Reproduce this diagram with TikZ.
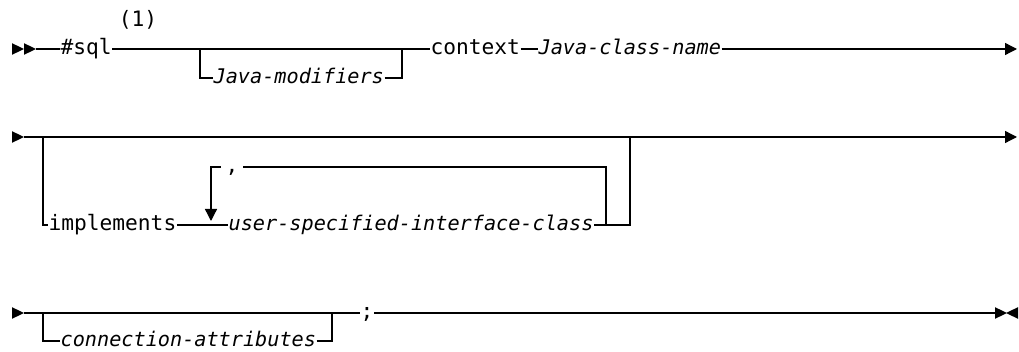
\documentclass[tikz,border=0pt]{standalone}
\usepackage{fontspec}
\setmonofont{DejaVu Sans Mono}
\usetikzlibrary{arrows.meta,positioning}

\begin{document}
\begin{tikzpicture}[x=0.5pt,y=-0.5pt,line width=0.65pt,
    kw/.style={font=\ttfamily\fontsize{10.6}{12}\selectfont,inner sep=0pt,text height=7.8pt,text depth=2.2pt,anchor=west},
    var/.style={kw,font=\ttfamily\itshape\fontsize{10.1}{12}\selectfont},
    tip/.style={-{Triangle[length=6pt,width=6pt]}},
    headtri/.pic={\fill (0,-5.8) -- (12,0) -- (0,5.8) -- cycle;}]
        \useasboundingbox (0,0) rectangle (1019,352);
        % first row
        \pic at (12,49) {headtri};
        \pic at (24,49) {headtri};
        \coordinate (r1in) at (36,49);
        \coordinate (r1out) at (1017,49);
        \coordinate (j1a) at (200,49);
        \coordinate (j1b) at (402,49);
        \node[kw] (sql) at (60,49) {\#sql};
        \node[kw,anchor=center] (note) at (138,21) {(1)};
        \node[var] (jmod) at (213,78) {Java-modifiers};
        \node[kw] (ctx) at (430,49) {context};
        \node[var] (jcn) at (538,49) {Java-class-name};
        \draw (r1in) -- (sql.west);
        \draw (sql.east) -- (ctx.west);
        \draw (j1a) |- (jmod.west);
        \draw (jmod.east) -| (j1b);
        \draw (ctx.east) -- (jcn.west);
        \draw[tip] (jcn.east) -- (r1out);
        % second row
        \pic at (12,137) {headtri};
        \coordinate (r2in) at (24,137);
        \coordinate (r2out) at (1017,137);
        \coordinate (j2a) at (43,137);
        \coordinate (j2b) at (630,137);
        \coordinate (rep1) at (606,225);
        \coordinate (rep2) at (211,221);
        \node[kw] (impl) at (48,225) {implements};
        \node[var] (usic) at (228,225) {user-specified-interface-class};
        \node[kw,anchor=center,inner xsep=2pt] (comma) at (232,167) {,};
        \draw[tip] (r2in) -- (r2out);
        \draw (j2a) |- (impl.west);
        \draw (impl.east) -- (usic.west);
        \draw (usic.east) -| (j2b);
        \draw (rep1) |- (comma.east);
        \draw[tip] (comma.west) -| (rep2);
        % third row
        \pic at (12,313) {headtri};
        \coordinate (r3in) at (24,313);
        \coordinate (r3out) at (995,313);
        \coordinate (j3a) at (43,313);
        \coordinate (j3b) at (332,313);
        \node[var] (conn) at (60,341) {connection-attributes};
        \node[kw] (semi) at (360,313) {;};
        \draw (r3in) -- (semi.west);
        \draw (j3a) |- (conn.west);
        \draw (conn.east) -| (j3b);
        \draw (semi.east) -- (r3out);
        \pic at (r3out) {headtri};
        \pic[xscale=-1] at (1018,313) {headtri};
      \end{tikzpicture}
\end{document}
